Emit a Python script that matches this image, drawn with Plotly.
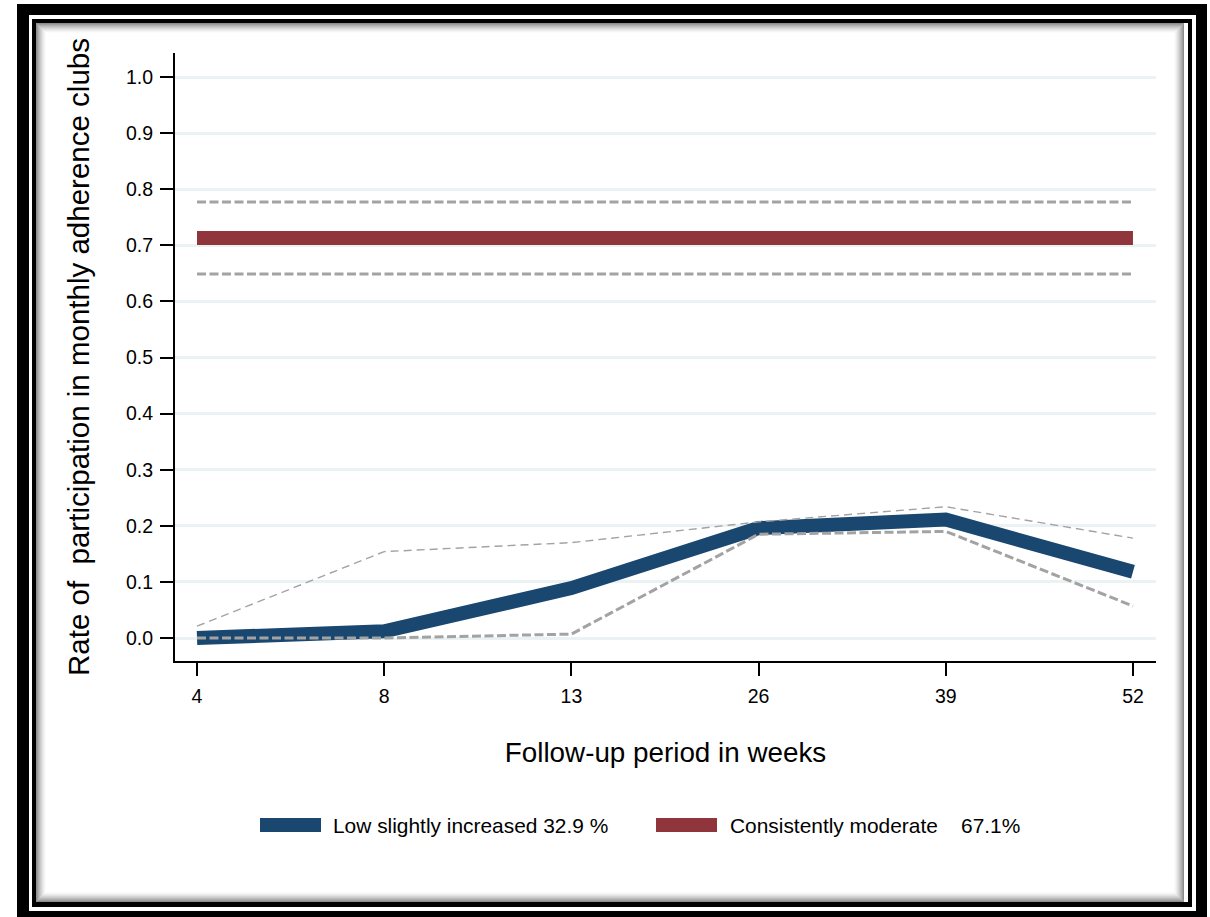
import plotly.graph_objects as go

# ---------------- data ----------------
weeks = ["4", "8", "13", "26", "39", "52"]
low_mean = [0.000, 0.012, 0.089, 0.196, 0.211, 0.118]
low_upper = [0.021, 0.154, 0.170, 0.207, 0.234, 0.178]
low_lower = [0.000, 0.000, 0.007, 0.185, 0.190, 0.057]
mod_mean = [0.713, 0.713, 0.713, 0.713, 0.713, 0.713]
mod_upper = [0.777, 0.777, 0.777, 0.777, 0.777, 0.777]
mod_lower = [0.649, 0.649, 0.649, 0.649, 0.649, 0.649]
yticks = [0.0, 0.1, 0.2, 0.3, 0.4, 0.5, 0.6, 0.7, 0.8, 0.9, 1.0]
legend_labels = ["Low slightly increased 32.9 %", "Consistently moderate    67.1%"]

# ---------------- style ----------------
W, H = 1210, 917
L, R, T, B = 175, 1156, 53, 661          # plot area in pixels
BLUE = "#1a476f"
RED = "#90353b"
GRAY = "#a3a3a3"
GRID = "#eaf2f3"
FONT = "Liberation Sans, Arial, sans-serif"

xi = list(range(len(weeks)))


def px(x):
    return (x - L) / (R - L)


def py(y):
    return (B - y) / (B - T)


fig = go.Figure()

# main lines
fig.add_trace(go.Scatter(x=xi, y=low_mean, mode="lines",
                         line=dict(color=BLUE, width=14), showlegend=False))
fig.add_trace(go.Scatter(x=xi, y=mod_mean, mode="lines",
                         line=dict(color=RED, width=14), showlegend=False))
# confidence bands
fig.add_trace(go.Scatter(x=xi, y=low_upper, mode="lines",
                         line=dict(color=GRAY, width=1.4, dash="8px,5px"), showlegend=False))
fig.add_trace(go.Scatter(x=xi, y=low_lower, mode="lines",
                         line=dict(color=GRAY, width=3, dash="9px,3.5px"), showlegend=False))
fig.add_trace(go.Scatter(x=xi, y=mod_upper, mode="lines",
                         line=dict(color=GRAY, width=3, dash="9px,3.5px"), showlegend=False))
fig.add_trace(go.Scatter(x=xi, y=mod_lower, mode="lines",
                         line=dict(color=GRAY, width=3, dash="9px,3.5px"), showlegend=False))

shapes = []


def rect(x0, y0, x1, y1, fill=None, line=None, lw=0):
    d = dict(type="rect", xref="paper", yref="paper", layer="below",
             x0=px(x0), x1=px(x1), y0=py(y1), y1=py(y0))
    d["fillcolor"] = fill if fill else "rgba(0,0,0,0)"
    d["line"] = dict(color=line, width=lw) if line else dict(width=0)
    return d


# frame
shapes.append(rect(17, 4, 1207, 930, fill="black"))
shapes.append(rect(29, 15, 1196, 911, fill="white"))
shapes.append(rect(32, 19, 1192, 907, fill="black"))
shapes.append(rect(36, 23, 1188, 902, fill="white"))
# inner shadow
for k in range(10):
    a = 0.45 * (1 - k / 10) ** 1.5
    shapes.append(rect(36 + k + 0.5, 23 + k + 0.5, 1184 - k - 0.5, 902 - k - 0.5,
                       line=f"rgba(0,0,0,{a:.3f})", lw=1))

# legend swatches
shapes.append(dict(type="rect", xref="paper", yref="paper", layer="above",
                   x0=px(260), x1=px(321), y0=py(832), y1=py(818),
                   fillcolor=BLUE, line=dict(width=0)))
shapes.append(dict(type="rect", xref="paper", yref="paper", layer="above",
                   x0=px(656), x1=px(717), y0=py(832), y1=py(818),
                   fillcolor=RED, line=dict(width=0)))

annotations = [
    dict(text=legend_labels[0], xref="paper", yref="paper", x=px(331), y=py(825),
         xanchor="left", yanchor="middle", showarrow=False,
         font=dict(family=FONT, size=20.9, color="black")),
    dict(text=legend_labels[1], xref="paper", yref="paper", x=px(728), y=py(825),
         xanchor="left", yanchor="middle", showarrow=False,
         font=dict(family=FONT, size=20.9, color="black")),
]

fig.update_layout(
    width=W, height=H,
    margin=dict(l=L, r=W - R, t=T, b=H - B, pad=0),
    paper_bgcolor="white", plot_bgcolor="rgba(0,0,0,0)",
    font=dict(family=FONT, color="black"),
    showlegend=False,
    shapes=shapes,
    annotations=annotations,
    xaxis=dict(
        range=[-0.1175, 5.123], tickmode="array", tickvals=xi, ticktext=weeks,
        showgrid=False, zeroline=False, showline=True, linecolor="black", linewidth=2,
        ticks="outside", ticklen=13, tickwidth=2, tickcolor="black",
        tickfont=dict(family=FONT, size=19.5, color="black"),
        ticklabelstandoff=4,
        title=dict(text="Follow-up period in weeks", standoff=36,
                   font=dict(family=FONT, size=27.8, color="black")),
    ),
    yaxis=dict(
        range=[-0.041, 1.0428], tickmode="array", tickvals=yticks,
        ticktext=[f"{v:.1f}" for v in yticks],
        showgrid=True, gridcolor=GRID, gridwidth=3, zeroline=False,
        showline=True, linecolor="black", linewidth=2,
        ticks="outside", ticklen=13, tickwidth=2, tickcolor="black",
        tickfont=dict(family=FONT, size=19.5, color="black"),
        ticklabelstandoff=3,
        title=dict(text="Rate of  participation in monthly adherence clubs", standoff=28,
                   font=dict(family=FONT, size=29.5, color="black")),
    ),
)

fig.write_html("out.html",
               config={"displayModeBar": False},
               post_script="document.body.style.margin='0px';document.body.style.overflow='hidden';")
